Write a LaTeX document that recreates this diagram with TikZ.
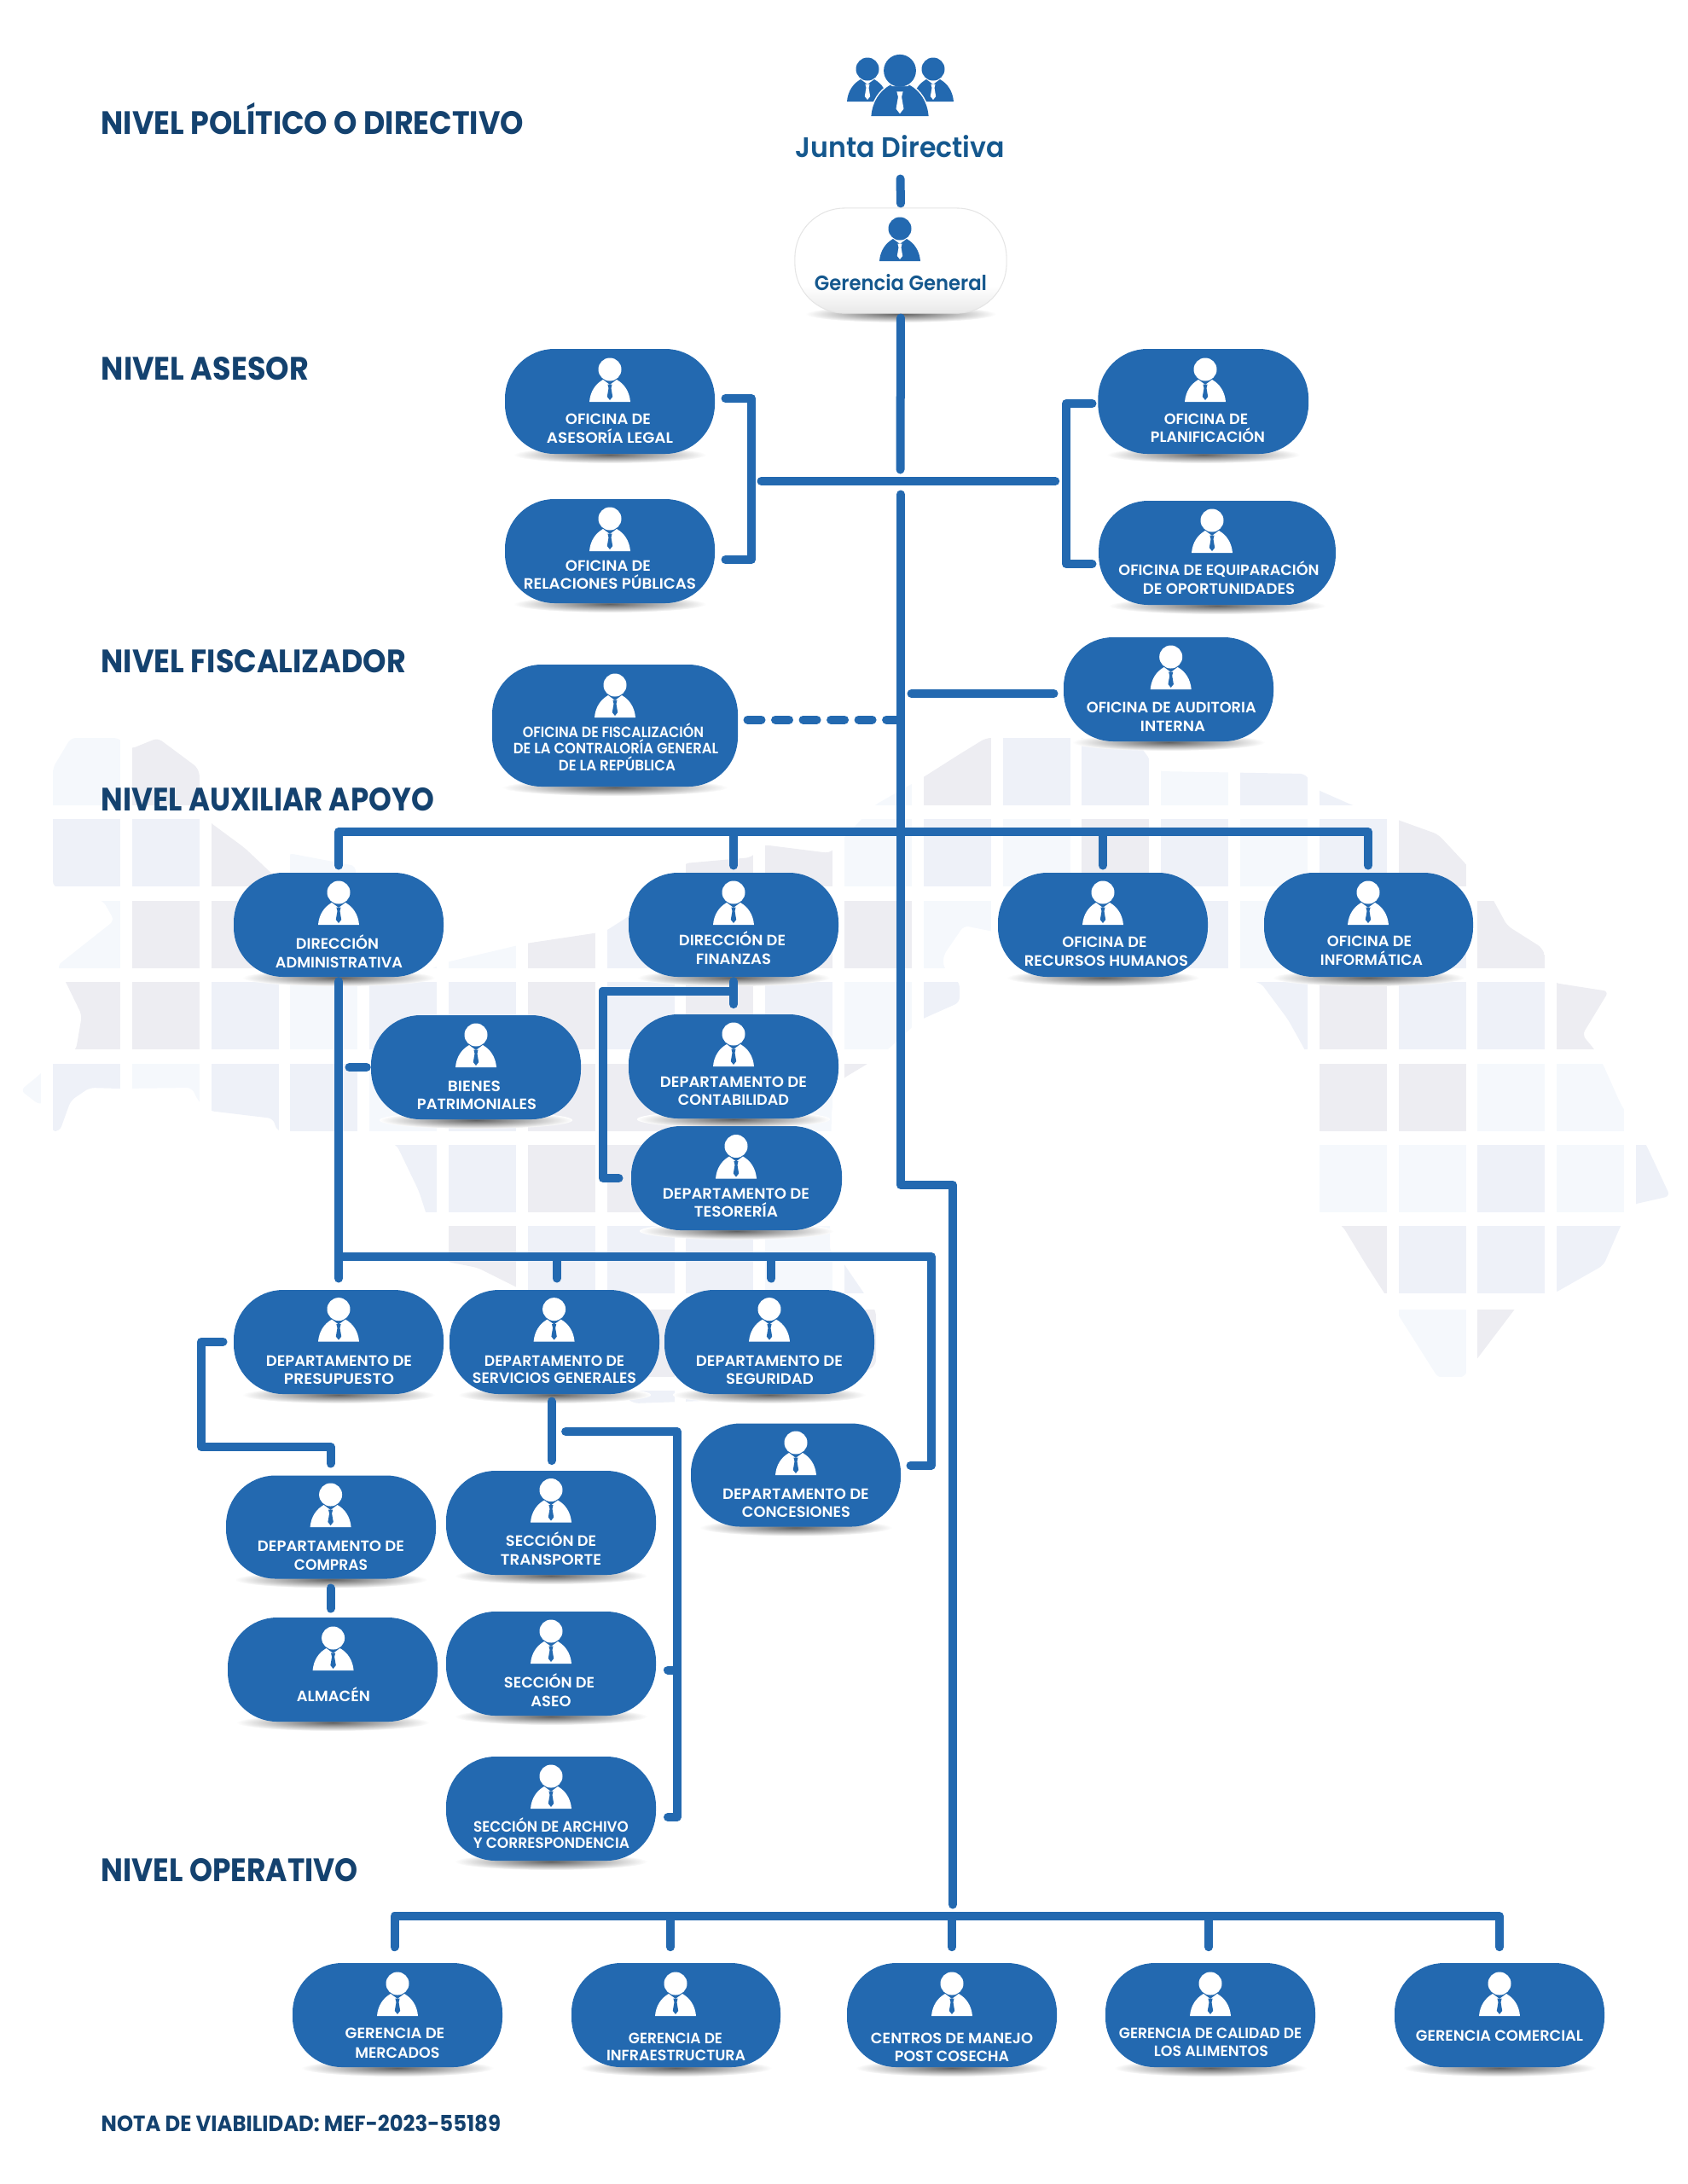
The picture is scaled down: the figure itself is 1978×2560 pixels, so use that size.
\documentclass[tikz,border=0pt]{standalone}
\usepackage{fontspec}
\usepackage{graphicx}
\setmainfont{Poppins}
\newfontfamily\semib{Poppins SemiBold}
\definecolor{pillblue}{HTML}{2369B0}
\definecolor{headblue}{HTML}{14426F}
\definecolor{juntablue}{HTML}{15588E}
\definecolor{cP}{HTML}{F5F8FC}
\definecolor{cL}{HTML}{EEF1F8}
\definecolor{cG}{HTML}{EDEDF2}
\pgfdeclareverticalshading{gershade}{100bp}{color(0bp)=(black!9); color(25bp)=(black!9); color(38bp)=(white); color(100bp)=(white)}
\newcounter{txtc}
\newcommand{\fw}[2]{\setbox0=\hbox{#2}\pgfmathsetmacro{\fwr}{#1*0.28453/\the\wd0}\scalebox{\fwr}[1]{#2}}
\newcommand{\lbl}[4]{\stepcounter{txtc}\node[pilltext] (t\arabic{txtc}) at (#1,#2) {\fw{#3}{#4}};}
\newcommand{\hd}[4]{\stepcounter{txtc}\node[headtext] (t\arabic{txtc}) at (#1,#2) {\fw{#3}{#4}};}
\newcommand{\manicon}[5]{\begin{scope}[shift={(#1,#2)},scale=#3]
\fill[#4] (0,-38) circle[radius=13.5];
\fill[#4] (-24,0) .. controls (-23,-12) and (-17,-21) .. (-8,-26) -- (0,-20) -- (8,-26) .. controls (17,-21) and (23,-12) .. (24,0) -- cycle;
\fill[#5] (-2.6,-20.5) -- (2.6,-20.5) -- (1.5,-16) -- (3.2,-6) -- (0,-2) -- (-3.2,-6) -- (-1.5,-16) -- cycle;
\end{scope}}
\newcommand{\pill}[5]{\shade[inner color=black!62,outer color=white] (#2,{#3+#5/2+1}) ellipse ({#4*0.46} and 10);
\node[pillbox,minimum width=#4*0.01cm,minimum height=#5*0.01cm] (#1) at (#2,#3) {};}
\tikzset{
 pillbox/.style={fill=pillblue,rounded corners=0.58cm,inner sep=0pt,draw=none},
 pilltext/.style={anchor=base,inner sep=0pt,text=white,font=\semib\fontsize{5}{6}\selectfont},
 headtext/.style={anchor=base west,inner sep=0pt,text=headblue,font=\bfseries\fontsize{10.8}{12}\selectfont},
 conn/.style={draw=pillblue,line width=0.1cm,line cap=round,line join=round,shorten >=0.045cm,shorten <=0.045cm},
 dashconn/.style={conn,dash pattern=on 0.16cm off 0.165cm,shorten >=0cm}
}
\begin{document}
\begin{tikzpicture}[x=0.01cm,y=-0.01cm]
\useasboundingbox (0,0) rectangle (1978,2560);
% map background
\begin{scope}
\clip[rounded corners=0.06cm] (24,1278) -- (46,1260) -- (60,1246) -- (89,1231) -- (96,1190) -- (77,1151) -- (67,1132) -- (134,1079) -- (121,1056) -- (62,1039) -- (62,900) -- (83,865) -- (139,865) -- (153,878) -- (185,865) -- (232,900) -- (245,963) -- (287,994) -- (325,1030) -- (338,1000) -- (417,1015) -- (417,1039) -- (338,1042) -- (330,1142) -- (500,1138) -- (523,1128) -- (616,1106) -- (709,1092) -- (790,1040) -- (802,1012) -- (881,1005) -- (894,990) -- (973,1000) -- (1025,944) -- (1081,912) -- (1125,884) -- (1156,865) -- (1330,865) -- (1358,904) -- (1530,907) -- (1543,925) -- (1586,944) -- (1636,960) -- (1686,978) -- (1715,1009) -- (1742,1039) -- (1767,1085) -- (1808,1111) -- (1822,1152) -- (1886,1162) -- (1855,1213) -- (1870,1231) -- (1880,1249) -- (1900,1294) -- (1930,1342) -- (1958,1402) -- (1914,1412) -- (1900,1437) -- (1880,1483) -- (1822,1516) -- (1790,1516) -- (1730,1595) -- (1715,1615) -- (1686,1615) -- (1636,1536) -- (1600,1480) -- (1574,1437) -- (1544,1421) -- (1544,1269) -- (1530,1231) -- (1510,1195) -- (1478,1152) -- (1440,1145) -- (1200,1136) -- (1180,1095) -- (1130,1085) -- (1106,1120) -- (1106,1134) -- (1125,1152) -- (1125,1175) -- (1080,1195) -- (1066,1207) -- (1040,1231) -- (1017,1247) -- (987,1265) -- (975,1300) -- (973,1437) -- (973,1467) -- (987,1478) -- (1013,1516) -- (1027,1537) -- (1027,1600) -- (1000,1617) -- (880,1640) -- (743,1645) -- (680,1600) -- (614,1513) -- (560,1486) -- (524,1479) -- (504,1436) -- (491,1396) -- (465,1342) -- (420,1326) -- (325,1326) -- (320,1311) -- (245,1302) -- (232,1290) -- (225,1275) -- (140,1276) -- (105,1275) -- (83,1290) -- (70,1326) -- (60,1326) -- (60,1290) -- (46,1295) -- cycle;
\foreach \yy/\codes in {
865/{0/P,1/G,10/P,11/G,12/L,13/L,14/P,15/L,16/L},
960/{0/L,1/L,2/G,3/P,4/P,5/P,6/L,7/L,8/G,9/G,10/P,11/L,12/P,13/G,14/L,15/P,16/L,17/G},
1055.5/{0/P,1/G,2/G,3/P,4/P,5/P,6/G,7/L,8/L,9/G,10/G,11/P,12/L,13/L,14/L,15/P,16/P,17/L,18/G},
1151/{0/G,1/G,2/L,3/P,4/L,5/L,6/G,7/L,8/G,9/L,10/P,11/L,12/L,15/L,16/G,17/L,18/L,19/G},
1246.5/{-1/P,0/L,1/P,2/L,3/L,4/P,5/L,6/G,7/G,8/L,9/P,10/G,16/G,17/G,18/P,19/P},
1342/{0/P,2/L,4/L,5/L,6/G,7/G,8/P,9/L,16/P,17/P,18/L,19/P,20/L},
1437/{5/G,6/L,7/L,8/L,9/P,10/L,16/G,17/L,18/L,19/L},
1535/{4/L,5/L,6/L,7/G,8/L,9/L,10/G,17/P,18/G},
1630/{7/L,8/L}}{
 \foreach \kk/\cc in \codes {\fill[fill=c\cc] ({62+92.8*\kk},\yy) rectangle ++(79,79);}
}
\end{scope}
% headings
\hd{118}{157}{495}{NIVEL POLÍTICO O DIRECTIVO}
\hd{118}{445.5}{243}{NIVEL ASESOR}
\hd{118}{788.5}{357}{NIVEL FISCALIZADOR}
\hd{118}{950.5}{390}{NIVEL AUXILIAR APOYO}
\hd{118}{2205.5}{301}{NIVEL OPERATIVO}
\node[anchor=base west,inner sep=0pt,text=headblue,font=\bfseries\fontsize{7.4}{9}\selectfont] (nota) at (118,2498) {\fw{468}{NOTA DE VIABILIDAD: MEF-2023-55189}};
% junta
\manicon{1017}{119}{1}{pillblue}{white}
\manicon{1094}{119}{1}{pillblue}{white}
\begin{scope}[shift={(1055,136)},scale=1.4]
\draw[white,line width=0.03cm,fill=pillblue] (-24,0) .. controls (-23,-12) and (-17,-21) .. (-8,-26) -- (8,-26) .. controls (17,-21) and (23,-12) .. (24,0) -- cycle;
\end{scope}
\manicon{1055}{136}{1.4}{pillblue}{white}
\node[anchor=base,inner sep=0pt,text=juntablue,font=\semib\fontsize{9.4}{11}\selectfont] (junta) at (1055.5,184) {\fw{245}{Junta Directiva}};
% pills
\shade[inner color=black!62,outer color=white] (1056,368) ellipse (112 and 10);
\node[shading=gershade,draw=black!10,line width=0.3pt,rounded corners=0.58cm,inner sep=0pt,minimum width=2.48cm,minimum height=1.23cm] (gerencia) at (1056,305.5) {};
\manicon{1055}{306}{1}{pillblue}{white}
\node[anchor=base,inner sep=0pt,text=juntablue,font=\semib\fontsize{6.9}{8}\selectfont] (gertxt) at (1056,340) {\fw{202}{Gerencia General}};

\pill{legal}{715}{470.5}{246}{123}
\pill{relpub}{715}{646}{246}{122}
\pill{fisc}{721}{850.5}{288}{143}
\pill{plan}{1410.7}{470.5}{246.7}{123}
\pill{equip}{1427}{648}{277.7}{122}
\pill{audit}{1370}{808}{246}{122}
\pill{diradm}{397}{1084}{246}{122}
\pill{dirfin}{860}{1084}{246}{122}
\pill{rrhh}{1293}{1084}{246}{122}
\pill{info}{1604.5}{1084}{245}{122}
\pill{bienes}{558}{1251}{246}{122}
\pill{contab}{860}{1250}{246}{122}
\pill{tesor}{863.5}{1381}{247}{122}
\pill{presup}{397}{1573}{246}{122}
\pill{servic}{650}{1573}{246}{122}
\pill{segur}{902}{1573}{246}{122}
\pill{conces}{933}{1729}{246}{121}
\pill{compras}{388}{1790}{246}{121}
\pill{almacen}{390}{1957}{246}{122}
\pill{transp}{646}{1785}{246}{122}
\pill{aseo}{646}{1950}{246}{122}
\pill{archivo}{646}{2120}{246}{122}
\pill{merc}{466}{2362}{246}{122}
\pill{infra}{792.5}{2362}{245}{122}
\pill{centros}{1116}{2362}{246}{122}
\pill{calidad}{1419}{2362}{246}{122}
\pill{comer}{1758}{2362}{246}{122}
% icons
\manicon{715}{471}{1}{white}{pillblue}
\manicon{715}{646}{1}{white}{pillblue}
\manicon{721}{841}{1}{white}{pillblue}
\manicon{1413}{471}{1}{white}{pillblue}
\manicon{1421}{648}{1}{white}{pillblue}
\manicon{1372.7}{808}{1}{white}{pillblue}
\manicon{397}{1084}{1}{white}{pillblue}
\manicon{860}{1084}{1}{white}{pillblue}
\manicon{1293}{1084}{1}{white}{pillblue}
\manicon{1604}{1084}{1}{white}{pillblue}
\manicon{558}{1251}{1}{white}{pillblue}
\manicon{860}{1250}{1}{white}{pillblue}
\manicon{863}{1381.5}{1}{white}{pillblue}
\manicon{397}{1572.6}{1}{white}{pillblue}
\manicon{649.6}{1572.6}{1}{white}{pillblue}
\manicon{902}{1572.6}{1}{white}{pillblue}
\manicon{933}{1729}{1}{white}{pillblue}
\manicon{387.6}{1790}{1}{white}{pillblue}
\manicon{390.6}{1958}{1}{white}{pillblue}
\manicon{646}{1784.5}{1}{white}{pillblue}
\manicon{646}{1950}{1}{white}{pillblue}
\manicon{646}{2120}{1}{white}{pillblue}
\manicon{466}{2363}{1}{white}{pillblue}
\manicon{792}{2363}{1}{white}{pillblue}
\manicon{1116}{2363}{1}{white}{pillblue}
\manicon{1419}{2363}{1}{white}{pillblue}
\manicon{1758}{2363}{1}{white}{pillblue}
% labels
\lbl{713}{497}{100}{OFICINA DE}
\lbl{715}{519}{148}{ASESORÍA LEGAL}
\lbl{713}{669}{100}{OFICINA DE}
\lbl{715}{690}{202}{RELACIONES PÚBLICAS}
\lbl{719}{864}{212}{OFICINA DE FISCALIZACIÓN}
\lbl{722}{883}{240}{DE LA CONTRALORÍA GENERAL}
\lbl{723.5}{903}{137}{DE LA REPÚBLICA}
\lbl{1414}{497}{98.3}{OFICINA DE}
\lbl{1416}{518}{134}{PLANIFICACIÓN}
\lbl{1429}{674}{235}{OFICINA DE EQUIPARACIÓN}
\lbl{1429}{696}{178}{DE OPORTUNIDADES}
\lbl{1373.3}{835}{198.7}{OFICINA DE AUDITORIA}
\lbl{1375}{857}{76}{INTERNA}
\lbl{395.5}{1112}{97}{DIRECCIÓN}
\lbl{397.5}{1134}{149}{ADMINISTRATIVA}
\lbl{858.5}{1108}{125}{DIRECCIÓN DE}
\lbl{860}{1130}{88}{FINANZAS}
\lbl{1295}{1110}{99}{OFICINA DE}
\lbl{1297}{1132}{192}{RECURSOS HUMANOS}
\lbl{1605.5}{1109}{99}{OFICINA DE}
\lbl{1608}{1131}{120}{INFORMÁTICA}
\lbl{556}{1279}{62}{BIENES}
\lbl{559}{1300}{140}{PATRIMONIALES}
\lbl{860}{1274}{172}{DEPARTAMENTO DE}
\lbl{860}{1295}{130}{CONTABILIDAD}
\lbl{863}{1405}{172}{DEPARTAMENTO DE}
\lbl{863}{1426}{98}{TESORERÍA}
\lbl{397.5}{1601}{171}{DEPARTAMENTO DE}
\lbl{397.5}{1622.6}{129}{PRESUPUESTO}
\lbl{650}{1601}{164}{DEPARTAMENTO DE}
\lbl{650}{1621}{192}{SERVICIOS GENERALES}
\lbl{902}{1601}{172}{DEPARTAMENTO DE}
\lbl{902.5}{1622.6}{102.6}{SEGURIDAD}
\lbl{933}{1757}{171.5}{DEPARTAMENTO DE}
\lbl{933.5}{1778.6}{127}{CONCESIONES}
\lbl{388}{1818}{172}{DEPARTAMENTO DE}
\lbl{388}{1840}{86}{COMPRAS}
\lbl{391}{1994}{86}{ALMACÉN}
\lbl{646}{1812.6}{106}{SECCIÓN DE}
\lbl{646}{1834.4}{118}{TRANSPORTE}
\lbl{644}{1978}{106}{SECCIÓN DE}
\lbl{646}{2000}{47}{ASEO}
\lbl{646}{2147}{181.5}{SECCIÓN DE ARCHIVO}
\lbl{646.5}{2166}{183}{Y CORRESPONDENCIA}
\lbl{463}{2389}{116.6}{GERENCIA DE}
\lbl{466}{2412}{99}{MERCADOS}
\lbl{792}{2395}{110}{GERENCIA DE}
\lbl{792.6}{2415.7}{163}{INFRAESTRUCTURA}
\lbl{1116}{2395}{190}{CENTROS DE MANEJO}
\lbl{1116}{2416}{134}{POST COSECHA}
\lbl{1419}{2389}{214}{GERENCIA DE CALIDAD DE}
\lbl{1420}{2410}{134}{LOS ALIMENTOS}
\lbl{1758}{2392}{196}{GERENCIA COMERCIAL}
% junction coordinates
\coordinate (jd) at (1055.5,205);
\coordinate (m1) at (1055.5,555);
\coordinate (hL) at (888,564);
\coordinate (hR) at (1241.7,564);
\coordinate (m2) at (1056,575);
\coordinate (m2a) at (1056,1389);
\coordinate (m2b) at (1117,1389);
\coordinate (m2c) at (1117,2237);
\coordinate (lb0) at (846,467);
\coordinate (lb1) at (881,467);
\coordinate (lb2) at (881,656);
\coordinate (lb3) at (846,656);
\coordinate (rb0) at (1285,473);
\coordinate (rb1) at (1250,473);
\coordinate (rb2) at (1250,661);
\coordinate (rb3) at (1285,661);
\coordinate (au) at (1064,813);
\coordinate (au2) at (1240,813);
\coordinate (da) at (872,843.6);
\coordinate (db) at (1056,843.6);
\coordinate (ab0) at (397,1019);
\coordinate (ab1) at (397,975);
\coordinate (ab2) at (1604,975);
\coordinate (ab3) at (1604,1019);
\coordinate (ab4) at (860,975);
\coordinate (ab5) at (860,1019);
\coordinate (ab6) at (1293,975);
\coordinate (ab7) at (1293,1019);
\coordinate (ad0) at (397,1503);
\coordinate (bn0) at (405,1251);
\coordinate (bs0) at (397,1473);
\coordinate (bs1) at (1092,1473);
\coordinate (bs2) at (1092,1717.6);
\coordinate (bs3) at (1063,1717.6);
\coordinate (bs4) at (652.6,1473);
\coordinate (bs5) at (652.6,1503);
\coordinate (bs6) at (904.4,1473);
\coordinate (bs7) at (904.4,1503);
\coordinate (ff0) at (860,1181.6);
\coordinate (ff1) at (860,1161.5);
\coordinate (ff2) at (706.6,1161.5);
\coordinate (ff3) at (706.6,1381);
\coordinate (ff4) at (730,1381);
\coordinate (pb0) at (266,1572.6);
\coordinate (pb1) at (236,1572.6);
\coordinate (pb2) at (236,1696);
\coordinate (pb3) at (387.6,1696);
\coordinate (pb4) at (387.6,1720);
\coordinate (ca0) at (387.6,1857);
\coordinate (ca1) at (387.6,1890);
\coordinate (sv0) at (646.6,1638);
\coordinate (sv1) at (646.6,1716.6);
\coordinate (sb0) at (658.6,1678);
\coordinate (sb1) at (793.5,1678);
\coordinate (sb2) at (793.5,2130);
\coordinate (sb3) at (778.5,2130);
\coordinate (sb4) at (793.5,1957.5);
\coordinate (sb5) at (778.5,1957.5);
\coordinate (ob0) at (462.5,2286.7);
\coordinate (ob1) at (462.5,2246);
\coordinate (ob2) at (1758,2246);
\coordinate (ob3) at (1758,2286.7);
\coordinate (ob4) at (786,2246);
\coordinate (ob5) at (786,2286.7);
\coordinate (ob6) at (1116,2246);
\coordinate (ob7) at (1116,2286.7);
\coordinate (ob8) at (1417,2246);
\coordinate (ob9) at (1417,2286.7);
% connectors
\draw[conn,shorten >=0.05cm] (jd) -- (gerencia.north);
\draw[conn,shorten <=0.05cm] (gerencia.south) -- (m1);
\draw[conn] (hL) -- (hR);
\draw[conn] (m2) -- (m2a) -- (m2b) -- (m2c);
\draw[conn] (lb0) -- (lb1) -- (lb2) -- (lb3);
\draw[conn] (rb0) -- (rb1) -- (rb2) -- (rb3);
\draw[conn] (au) -- (au2);
\draw[dashconn] (da) -- (db);
\draw[conn] (ab0) -- (ab1) -- (ab2) -- (ab3);
\draw[conn] (ab4) -- (ab5);
\draw[conn] (ab6) -- (ab7);
\draw[conn] (diradm.south) -- (ad0);
\draw[conn] (bn0) -- (bienes.west);
\draw[conn] (bs0) -- (bs1) -- (bs2) -- (bs3);
\draw[conn] (bs4) -- (bs5);
\draw[conn] (bs6) -- (bs7);
\draw[conn] (dirfin.south) -- (ff0);
\draw[conn] (ff1) -- (ff2) -- (ff3) -- (ff4);
\draw[conn] (pb0) -- (pb1) -- (pb2) -- (pb3) -- (pb4);
\draw[conn] (ca0) -- (ca1);
\draw[conn] (sv0) -- (sv1);
\draw[conn] (sb0) -- (sb1) -- (sb2) -- (sb3);
\draw[conn] (sb4) -- (sb5);
\draw[conn] (ob0) -- (ob1) -- (ob2) -- (ob3);
\draw[conn] (ob4) -- (ob5);
\draw[conn] (ob6) -- (ob7);
\draw[conn] (ob8) -- (ob9);
\end{tikzpicture}
\end{document}
